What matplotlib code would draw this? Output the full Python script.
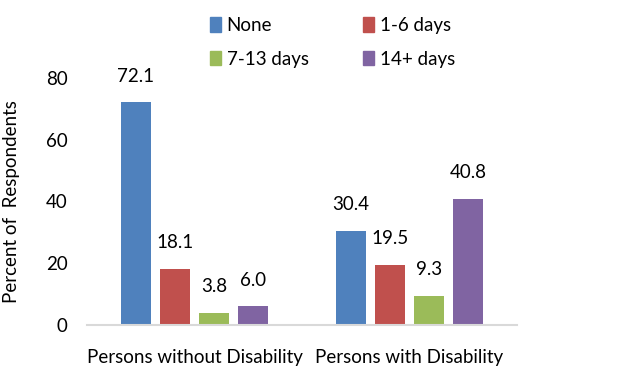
import matplotlib
matplotlib.use("Agg")
import matplotlib.pyplot as plt
import numpy as np
from matplotlib.patches import Patch

plt.rcParams['font.family'] = ['Lato', 'DejaVu Sans']

groups = ["Persons without Disability", "Persons with Disability"]
series = ["None", "1-6 days", "7-13 days", "14+ days"]
values = {
    "None": [72.1, 30.4],
    "1-6 days": [18.1, 19.5],
    "7-13 days": [3.8, 9.3],
    "14+ days": [6.0, 40.8],
}
colors = ["#4F81BD", "#C0504D", "#9BBB59", "#8064A2"]
yticks = [0, 20, 40, 60, 80]

fig = plt.figure(figsize=(6.28, 3.71), dpi=100)
ax = fig.add_axes([87/628, 1 - 325/371, 430/628, 247/371])

x = np.arange(len(groups))
step = 0.1814
width = 0.144
for i, (name, col) in enumerate(zip(series, colors)):
    pos = x + (i - 1.5) * step
    bars = ax.bar(pos, values[name], width=width, color=col, label=name)
    for b, v in zip(bars, values[name]):
        ax.annotate(f"{v:.1f}", (b.get_x() + b.get_width() / 2, v),
                    xytext=(0, 19), textcoords="offset points",
                    ha="center", va="center", fontsize=13.5, color="#000000")

ax.set_xlim(-0.5, 1.5)
ax.set_ylim(0, 80)
ax.set_yticks(yticks)
ax.set_xticks(x)
ax.set_xticklabels(groups, fontsize=13.5)
ax.tick_params(axis="both", length=0, labelsize=13.5)
ax.tick_params(axis="y", pad=14)
ax.tick_params(axis="x", pad=17)
for s in ["top", "right", "left"]:
    ax.spines[s].set_visible(False)
ax.spines["bottom"].set_color("#D9D9D9")
ax.spines["bottom"].set_linewidth(1.5)
ax.set_ylabel("Percent of  Respondents", fontsize=13.5)
ax.yaxis.set_label_coords((20 - 87) / 430, 0.5)

# legend laid out row by row: None, 1-6 days / 7-13 days, 14+ days
order = [0, 2, 1, 3]
handles = [Patch(color=colors[k]) for k in order]
labels = [series[k] for k in order]
fig.legend(handles, labels, ncol=2, loc="upper left",
           bbox_to_anchor=(193/628, 1.0), frameon=False, fontsize=13.5,
           handlelength=0.6, handleheight=0.8, handletextpad=0.3,
           columnspacing=2.9, labelspacing=0.9)

fig.savefig("out.png", dpi=100)
